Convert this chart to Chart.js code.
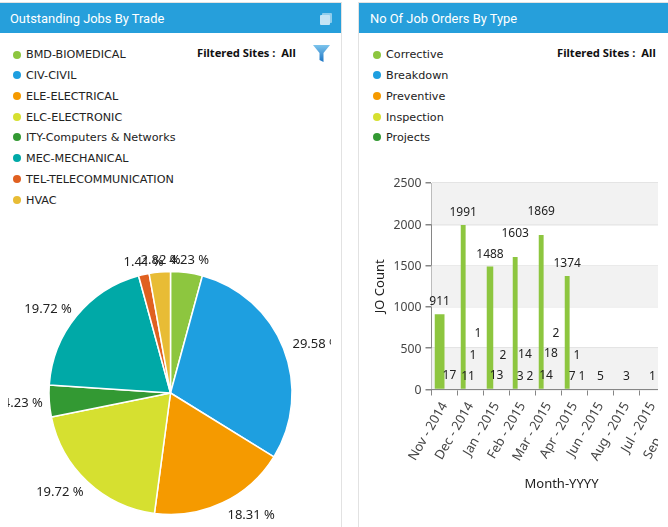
<!DOCTYPE html>
<html>
<head>
<meta charset="utf-8">
<title>Dashboard</title>
<script src="https://cdn.jsdelivr.net/npm/chart.js@4"></script>
<style>
  html, body { margin: 0; padding: 0; background: #fff; overflow: hidden; }
  body { width: 668px; height: 527px; position: relative; font-family: "Noto Sans", sans-serif; color: #222; }
  .panel { position: absolute; top: 2px; bottom: 0; background: #fff; border: 1px solid #e2e2e2; border-bottom: 0; box-sizing: border-box; }
  #panelLeft { left: -2px; width: 344px; }
  #panelRight { left: 358px; width: 320px; }
  .head { position: absolute; top: 3px; height: 30px; background: #269fdb; color: #fff; font-family: Roboto, sans-serif; font-size: 12.9px; line-height: 31px; white-space: nowrap; }
  #headLeft { left: 0; width: 341px; padding-left: 10px; box-sizing: border-box; }
  #headRight { left: 359px; width: 309px; padding-left: 11px; box-sizing: border-box; }
  .legend { position: absolute; top: 0; left: 0; font-family: "DejaVu Sans", sans-serif; font-size: 11.2px; }
  .legend div { position: absolute; white-space: nowrap; line-height: 14px; color: #222; }
  .legend i { position: absolute; width: 8px; height: 8px; border-radius: 50%; }
  .sites { position: absolute; top: 45px; font-family: "Noto Sans", sans-serif; font-weight: bold; font-size: 11.2px; line-height: 16px; color: #111; white-space: pre; }
  canvas { position: absolute; }
  svg { position: absolute; }
</style>
</head>
<body>
<div class="panel" id="panelLeft"></div>
<div class="panel" id="panelRight"></div>
<div class="head" id="headLeft">Outstanding Jobs By Trade</div>
<div class="head" id="headRight">No Of Job Orders By Type</div>

<svg style="left:319px;top:12px" width="14" height="14" viewBox="0 0 14 14">
  <rect x="3" y="1" width="10" height="10" rx="1" fill="#8fcdec"/>
  <rect x="1" y="3" width="10" height="10" rx="1" fill="#c4e4f5"/>
</svg>
<svg style="left:312px;top:43px" width="19" height="20" viewBox="0 0 19 20">
  <defs><linearGradient id="fn" x1="0" y1="0" x2="0" y2="1"><stop offset="0" stop-color="#7cc4ec"/><stop offset="1" stop-color="#1c74c4"/></linearGradient></defs>
  <path d="M1 2 H18 L11.5 10 V19 L7.5 17 V10 Z" fill="url(#fn)"/>
</svg>

<div class="sites" style="left:197px">Filtered Sites :  All</div>
<div class="sites" style="left:557px">Filtered Sites :  All</div>

<div class="legend" id="legendLeft"></div>
<div class="legend" id="legendRight"></div>

<canvas id="pieChart" width="323" height="280" style="left:8px;top:253px"></canvas>
<canvas id="barChart" width="340" height="322" style="left:358px;top:170px"></canvas>
<div style="position:absolute;left:657.5px;top:170px;width:11px;height:357px;background:#fff"></div>

<script>
const trades = ['BMD-BIOMEDICAL', 'CIV-CIVIL', 'ELE-ELECTRICAL', 'ELC-ELECTRONIC', 'ITY-Computers & Networks', 'MEC-MECHANICAL', 'TEL-TELECOMMUNICATION', 'HVAC'];
const tradePercent = [4.23, 29.58, 18.31, 19.72, 4.23, 19.72, 1.41, 2.82];
const tradeColors = ['#8dc63f', '#1e9fe0', '#f59a00', '#d6e030', '#339933', '#00a9a7', '#e06020', '#e8bc35'];

const months = ['Nov - 2014', 'Dec - 2014', 'Jan - 2015', 'Feb - 2015', 'Mar - 2015', 'Apr - 2015', 'Jun - 2015', 'Aug - 2015', 'Jul - 2015', 'Sep - 2015'];
const jobTypes = ['Corrective', 'Breakdown', 'Preventive', 'Inspection', 'Projects'];
const corrective = [911, 1991, 1488, 1603, 1869, 1374, 5, 3, 1, null];
const breakdown = [17, 11, 13, 3, 14, 7, null, null, null, null];
const preventive = [null, 1, 2, 14, 18, 1, null, null, null, null];
const inspection = [null, 1, null, 2, 2, 1, null, null, null, null];
const projects = [null, null, null, null, null, null, null, null, null, null];
const typeColors = ['#8dc63f', '#1e9fe0', '#f59a00', '#d6e030', '#339933'];

const yTicks = [0, 500, 1000, 1500, 2000, 2500];

function buildLegend(id, names, colors, dotX, textX) {
  const rows = [54.5, 75, 96, 117, 137, 158, 179, 200];
  const box = document.getElementById(id);
  names.forEach((name, i) => {
    const dot = document.createElement('i');
    dot.style.left = (dotX - 4) + 'px';
    dot.style.top = (rows[i] - 4) + 'px';
    dot.style.background = colors[i];
    box.appendChild(dot);
    const row = document.createElement('div');
    row.textContent = name;
    row.style.left = textX + 'px';
    row.style.top = (rows[i] - 6.5) + 'px';
    box.appendChild(row);
  });
}
buildLegend('legendLeft', trades, tradeColors, 17, 26);
buildLegend('legendRight', jobTypes, typeColors, 377, 386);

// percent labels outside of the pie, centered near the top and anchored left/right elsewhere
const pieLabels = {
  id: 'pieLabels',
  afterDatasetsDraw(chart) {
    const ctx = chart.ctx;
    const arcs = chart.getDatasetMeta(0).data;
    ctx.save();
    ctx.font = '13px "Noto Sans", sans-serif';
    ctx.fillStyle = '#222';
    ctx.textBaseline = 'middle';
    arcs.forEach((arc, i) => {
      const mid = (arc.startAngle + arc.endAngle) / 2;
      const sx = Math.cos(mid);
      const sy = Math.sin(mid);
      ctx.textAlign = Math.abs(sx) < 0.25 ? 'center' : (sx > 0 ? 'left' : 'right');
      ctx.fillText(tradePercent[i].toFixed(2) + ' %', arc.x + 1.5 + sx * (arc.outerRadius + 8), arc.y + 1 + sy * (arc.outerRadius + 13));
    });
    ctx.restore();
  }
};

new Chart(document.getElementById('pieChart'), {
  type: 'pie',
  data: {
    labels: trades,
    datasets: [{
      data: tradePercent,
      backgroundColor: tradeColors,
      borderColor: '#fff',
      borderWidth: 1.5,
      radius: 121.5
    }]
  },
  options: {
    responsive: false,
    animation: false,
    layout: { padding: { left: 2 } },
    plugins: { legend: { display: false }, tooltip: { enabled: false } }
  },
  plugins: [pieLabels]
});

// alternate grey bands behind the bars
const bands = {
  id: 'bands',
  beforeDatasetsDraw(chart) {
    const ctx = chart.ctx;
    const y = chart.scales.y;
    const area = chart.chartArea;
    ctx.save();
    ctx.fillStyle = '#f2f2f2';
    for (let i = 0; i < yTicks.length - 1; i += 2) {
      const top = y.getPixelForValue(yTicks[i + 1]);
      const bottom = y.getPixelForValue(yTicks[i]);
      ctx.fillRect(area.left, top, area.right - area.left, bottom - top);
    }
    ctx.restore();
  }
};

// value labels above the bars, a label that would overlap an earlier one moves up
const barLabels = {
  id: 'barLabels',
  afterDatasetsDraw(chart) {
    const ctx = chart.ctx;
    const placed = [];
    ctx.save();
    ctx.font = '12px "Noto Sans", sans-serif';
    ctx.fillStyle = '#222';
    ctx.textAlign = 'center';
    ctx.textBaseline = 'middle';
    months.forEach((m, i) => {
      chart.data.datasets.forEach((ds, d) => {
        const value = ds.data[i];
        if (value === null) return;
        const bar = chart.getDatasetMeta(d).data[i];
        const text = String(value);
        const w = ctx.measureText(text).width;
        let y = bar.y - 12.5;
        while (placed.some(p => Math.abs(p.x - bar.x) < (p.w + w) / 2 && Math.abs(p.y - y) < 14)) {
          y -= 10.75;
        }
        placed.push({ x: bar.x, y: y, w: w });
        ctx.fillText(text, bar.x, y);
      });
    });
    ctx.restore();
  }
};

const seriesValues = [corrective, breakdown, preventive, inspection, projects];

new Chart(document.getElementById('barChart'), {
  type: 'bar',
  data: {
    labels: months,
    datasets: jobTypes.map((name, i) => ({
      label: name,
      data: seriesValues[i],
      // the very small counts do not show in the picture, only their labels do
      backgroundColor: c => (c.raw < 20 ? 'transparent' : typeColors[i]),
      skipNull: true,
      categoryPercentage: 0.75,
      barPercentage: 1
    }))
  },
  options: {
    responsive: false,
    animation: false,
    layout: { padding: { top: 13, right: 6.5, bottom: 0, left: 0 } },
    plugins: { legend: { display: false }, tooltip: { enabled: false } },
    scales: {
      x: {
        afterFit: s => { s.height = 102.5; },
        grid: { drawOnChartArea: false, color: '#868686', tickLength: 6 },
        border: { color: '#868686', z: 1 },
        ticks: {
          autoSkip: false,
          minRotation: 60,
          maxRotation: 60,
          padding: 4,
          color: '#444',
          font: { family: '"Noto Sans", sans-serif', size: 13 }
        },
        title: {
          display: true,
          text: 'Month-YYYY',
          color: '#222',
          padding: { top: 0, bottom: 0 },
          font: { family: '"Noto Sans", sans-serif', size: 13 }
        }
      },
      y: {
        min: 0,
        max: 2500,
        afterFit: s => { s.width = 73.5; },
        afterBuildTicks: s => { s.ticks = yTicks.map(v => ({ value: v })); },
        grid: { color: '#e4e4e4', lineWidth: 1.5, tickColor: '#868686', tickLength: 6 },
        border: { color: '#868686' },
        ticks: {
          padding: 4,
          color: '#444',
          labelOffset: 1,
          callback: v => String(v),
          font: { family: '"Noto Sans", sans-serif', size: 12.2 }
        },
        title: {
          display: true,
          text: 'JO Count',
          color: '#222',
          padding: { top: 14, bottom: 0 },
          font: { family: '"Noto Sans", sans-serif', size: 13 }
        }
      }
    }
  },
  plugins: [bands, barLabels]
});
</script>
</body>
</html>
